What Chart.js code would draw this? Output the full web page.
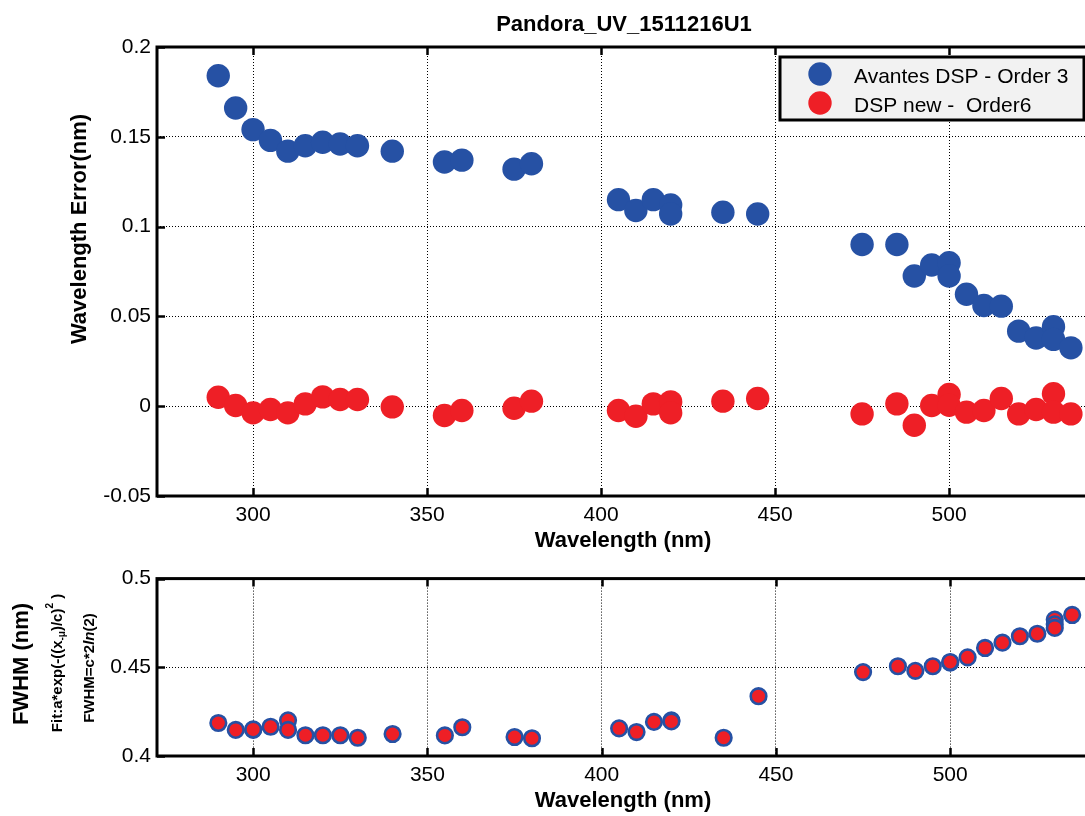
<!DOCTYPE html>
<html><head><meta charset="utf-8">
<script src="https://cdn.jsdelivr.net/npm/chart.js@4.4.1/dist/chart.umd.min.js"></script>
<style>
html,body{margin:0;padding:0;overflow:hidden;background:#fff;width:1085px;height:816px}
canvas{position:absolute;left:0;display:block}
#c1{top:0}
#c2{top:560px}
</style></head><body>
<canvas id="c1" width="1100" height="560"></canvas>
<canvas id="c2" width="1100" height="256"></canvas>
<script>
const chartTitle = 'Pandora_UV_1511216U1';
const seriesNames = ['Avantes DSP - Order 3', 'DSP new -  Order6'];
const xAxisTitle = 'Wavelength (nm)';
const yAxisTitleTop = 'Wavelength Error(nm)';

const wavelengths = [290,295,300,305,310,315,320,325,330,340,355,360,375,380,405,410,415,420,420,435,445,475,485,490,495,500,500,505,510,515,520,525,530,530,535];
const errAvantes = [0.184,0.166,0.154,0.148,0.142,0.145,0.147,0.146,0.145,0.142,0.136,0.137,0.132,0.135,0.115,0.109,0.115,0.112,0.107,0.108,0.107,0.090,0.090,0.0725,0.0786,0.0799,0.0725,0.0623,0.0561,0.0557,0.0418,0.038,0.0442,0.0372,0.0325];
const errNew = [0.005,0.0004,-0.0037,-0.0018,-0.0037,0.0013,0.0052,0.0037,0.0037,-0.0004,-0.0052,-0.0024,-0.0011,0.0028,-0.0024,-0.0056,0.0013,0.0024,-0.0037,0.0028,0.0043,-0.0043,0.0013,-0.0106,0.0004,0.0065,0.0005,-0.0033,-0.0024,0.0043,-0.0043,-0.0018,0.0069,-0.0033,-0.0043];

const wavelengthsFwhm = [290,295,300,300,305,310,310,315,320,325,330,340,355,360,375,380,405,410,415,420,420,435,445,475,485,490,495,500,500,505,510,515,520,525,530,530,530,535];
const fwhmValues = [0.4186,0.4147,0.4147,0.4150,0.4165,0.4201,0.4147,0.4117,0.4117,0.4117,0.4103,0.4124,0.4116,0.4162,0.4107,0.4100,0.4156,0.4135,0.4192,0.4201,0.4195,0.4103,0.4337,0.4473,0.4506,0.4480,0.4506,0.4526,0.4530,0.4556,0.4609,0.4639,0.4675,0.4689,0.4769,0.4742,0.4722,0.4795];

const xTickValues = [300,350,400,450,500];
const yTicksErr = [-0.05,0,0.05,0.1,0.15,0.2];
const yTicksFwhm = [0.4,0.45,0.5];

const FONT = '"Liberation Sans", Arial, Helvetica, sans-serif';
const BLUE = '#2651a4', RED = '#ee1f26';

function fmt(v){ return String(Number(v.toFixed(3))); }

function drawRotatedRich(ctx, cx, cy, segs){
  ctx.save();
  ctx.translate(cx, cy);
  ctx.rotate(-Math.PI/2);
  let total = 0;
  segs.forEach(s => { ctx.font = (s.italic?'italic ':'') + 'bold ' + s.size + 'px ' + FONT; s.w = ctx.measureText(s.t).width; total += s.w; });
  let x = -total/2;
  ctx.textBaseline = 'middle';
  ctx.textAlign = 'left';
  ctx.fillStyle = '#000';
  segs.forEach(s => { ctx.font = (s.italic?'italic ':'') + 'bold ' + s.size + 'px ' + FONT; ctx.fillText(s.t, x, s.dy||0); x += s.w; });
  ctx.restore();
}

function frameAndTicks(chart){
  const ctx = chart.ctx, a = chart.chartArea, xs = chart.scales.x, ys = chart.scales.y;
  ctx.save();
  ctx.strokeStyle = '#000';
  ctx.lineWidth = 2.5;
  ctx.beginPath();
  xs.ticks.forEach(t => { const p = Math.round(xs.getPixelForValue(t.value)) + 0.5; ctx.moveTo(p, a.bottom); ctx.lineTo(p, a.bottom - 8); ctx.moveTo(p, a.top); ctx.lineTo(p, a.top + 8); });
  ys.ticks.forEach(t => { const p = Math.round(ys.getPixelForValue(t.value)) + 0.5; ctx.moveTo(a.left, p); ctx.lineTo(a.left + 8, p); });
  ctx.stroke();
  ctx.lineWidth = 3;
  ctx.strokeRect(a.left, a.top, a.right - a.left, a.bottom - a.top);
  ctx.restore();
}

const decorTop = {
  id: 'decorTop',
  afterDraw(chart){
    frameAndTicks(chart);
    const ctx = chart.ctx;
    ctx.save();
    ctx.fillStyle = '#000';
    ctx.textAlign = 'center';
    ctx.textBaseline = 'alphabetic';
    ctx.font = 'bold 22px ' + FONT;
    ctx.fillText(chartTitle, 624, 31);
    ctx.textBaseline = 'middle';
    ctx.fillText(xAxisTitle, 623, 541);
    ctx.restore();
    drawRotatedRich(ctx, 80, 229, [{t: yAxisTitleTop, size: 22}]);
    // legend
    ctx.save();
    ctx.fillStyle = '#f2f2f2';
    ctx.fillRect(780, 57, 304, 63);
    ctx.lineWidth = 3;
    ctx.strokeStyle = '#000';
    ctx.strokeRect(780, 57, 304, 63);
    const ys = [74, 103];
    chart.data.datasets.forEach((d, i) => {
      ctx.beginPath();
      ctx.fillStyle = d.backgroundColor;
      ctx.arc(820, ys[i], 11.7, 0, Math.PI*2);
      ctx.fill();
      ctx.fillStyle = '#000';
      ctx.font = '21px ' + FONT;
      ctx.textAlign = 'left';
      ctx.textBaseline = 'alphabetic';
      ctx.fillText(d.label, 854, ys[i] + 8.5);
    });
    ctx.restore();
  }
};

const decorBottom = {
  id: 'decorBottom',
  afterDraw(chart){
    frameAndTicks(chart);
    const ctx = chart.ctx;
    ctx.save();
    ctx.fillStyle = '#000';
    ctx.textAlign = 'center';
    ctx.textBaseline = 'middle';
    ctx.font = 'bold 22px ' + FONT;
    ctx.fillText(xAxisTitle, 623, 241);
    ctx.restore();
    drawRotatedRich(ctx, 22, 104, [{t: 'FWHM (nm)', size: 22}]);
    drawRotatedRich(ctx, 58, 103, [
      {t: 'Fit:a*exp(-((x', size: 15},
      {t: '-\u03bc', size: 10, dy: 4},
      {t: ')/c)', size: 15},
      {t: '2', size: 10, dy: -8},
      {t: ' )', size: 15}
    ]);
    drawRotatedRich(ctx, 90, 108, [
      {t: 'FWHM=c*2', size: 15},
      {t: 'ln', size: 15, italic: true},
      {t: '(2)', size: 15}
    ]);
  }
};

function axisX(h){
  return {
    type: 'linear', min: 272.4, max: 540,
    afterBuildTicks: s => { s.ticks = xTickValues.map(v => ({value: v})); },
    afterFit: s => { s.height = h; },
    grid: {color: '#000', lineWidth: 1, drawTicks: false},
    border: {display: false, dash: [1, 2]},
    ticks: {color: '#000', font: {family: FONT, size: 21}, padding: 7, maxRotation: 0, callback: v => fmt(v)}
  };
}
function axisY(min, max, vals){
  return {
    type: 'linear', min: min, max: max,
    afterBuildTicks: s => { s.ticks = vals.map(v => ({value: v})); },
    afterFit: s => { s.width = 157; },
    grid: {color: '#000', lineWidth: 1, drawTicks: false},
    border: {display: false, dash: [1, 2]},
    ticks: {color: '#000', font: {family: FONT, size: 21}, padding: 6, callback: v => fmt(v)}
  };
}

new Chart(document.getElementById('c1'), {
  type: 'scatter',
  data: {datasets: [
    {label: seriesNames[0], data: wavelengths.map((x, i) => ({x: x, y: errAvantes[i]})), backgroundColor: BLUE, borderColor: BLUE, borderWidth: 0, pointRadius: 11.7, pointHoverRadius: 11.7},
    {label: seriesNames[1], data: wavelengths.map((x, i) => ({x: x, y: errNew[i]})), backgroundColor: RED, borderColor: RED, borderWidth: 0, pointRadius: 11.7, pointHoverRadius: 11.7}
  ]},
  options: {
    responsive: false, animation: false, devicePixelRatio: 1, events: [],
    layout: {padding: {top: 47, right: 9, left: 0, bottom: 0}},
    plugins: {legend: {display: false}, title: {display: false}, tooltip: {enabled: false}},
    scales: {x: axisX(64), y: axisY(-0.05, 0.2, yTicksErr)}
  },
  plugins: [decorTop]
});

new Chart(document.getElementById('c2'), {
  type: 'scatter',
  data: {datasets: [
    {label: 'FWHM', data: wavelengthsFwhm.map((x, i) => ({x: x, y: fwhmValues[i]})), backgroundColor: RED, borderColor: BLUE, borderWidth: 2.6, pointRadius: 7.8, pointHoverRadius: 7.8}
  ]},
  options: {
    responsive: false, animation: false, devicePixelRatio: 1, events: [],
    layout: {padding: {top: 8, right: 9, left: 0, bottom: 0}},
    plugins: {legend: {display: false}, title: {display: false}, tooltip: {enabled: false}},
    scales: {x: axisX(60), y: axisY(0.4, 0.5, yTicksFwhm)}
  },
  plugins: [decorBottom]
});
</script>
</body></html>
